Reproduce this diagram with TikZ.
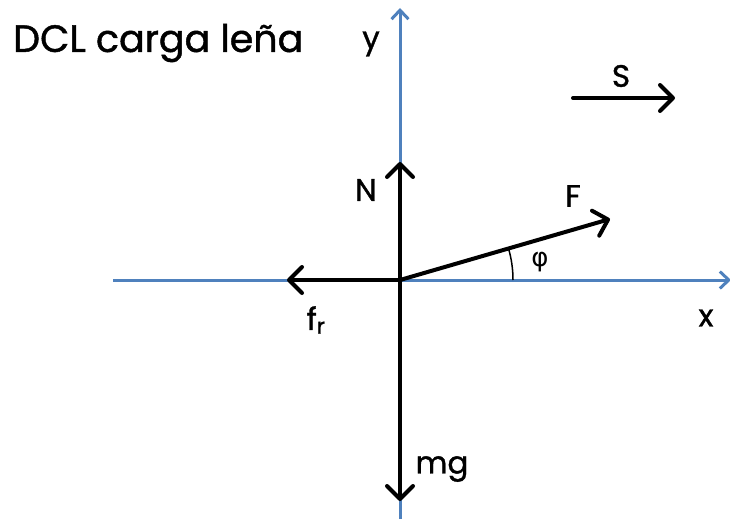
\documentclass[tikz,border=0pt]{standalone}
\usepackage{fontspec}
\setmainfont{Poppins}[FakeBold=1.2]
\newfontfamily\grk{DejaVu Sans}
\usetikzlibrary{arrows.meta}
\definecolor{axisblue}{HTML}{4F81BD}
\tikzset{
  axisline/.style={draw=axisblue, line width=3pt, -{Straight Barb[length=9pt,width=17pt,line width=3pt]}},
  force/.style={draw=black, line width=4pt, line cap=round, -{Straight Barb[length=13pt,width=26pt,line width=4pt, round]}},
  lbl/.style={font=\fontsize{31}{36}\selectfont, inner sep=0pt},
}
\begin{document}
\begin{tikzpicture}[x=1pt,y=-1pt]
\useasboundingbox (0,0) rectangle (730,519);
\coordinate (O) at (400,280);
\coordinate (xl) at (113,280);
\coordinate (xr) at (731,280);
\coordinate (yb) at (400,519);
\coordinate (yt) at (400,8);
\coordinate (Nt) at (400,162);
\coordinate (mgt) at (400,501);
\coordinate (frt) at (287,280);
\coordinate (Ft) at (610,219);
\coordinate (Sa) at (573,98);
\coordinate (Sb) at (675,98);
% axes
\draw[axisline] (xl) -- (xr);
\draw[axisline] (yb) -- (yt);
% forces
\draw[force] (O) -- (Nt);
\draw[force] (O) -- (mgt);
\draw[force] (O) -- (frt);
\draw[force] (O) -- (Ft);
\draw[force] (Sa) -- (Sb);
% angle arc
\draw[line width=1.5pt] (513,280) arc[start angle=0, end angle=-16.2, radius=113];
% labels
\node[lbl, anchor=west, font=\fontsize{38}{42}\selectfont] (title) at (13,43) {DCL carga leña};
\node[lbl] (ylab) at (371,44) {y};
\node[lbl] (xlab) at (706,318) {x};
\node[lbl] (Slab) at (621,76) {S};
\node[lbl] (Nlab) at (366,190) {N};
\node[lbl] (Flab) at (573,196) {F};
\node[lbl, font=\grk\fontsize{26}{30}\selectfont] (philab) at (540,262) {φ};
\node[lbl] (frlab) at (316,320) {f\textsubscript{r}};
\node[lbl] (mglab) at (442,469) {mg};
\end{tikzpicture}
\end{document}
